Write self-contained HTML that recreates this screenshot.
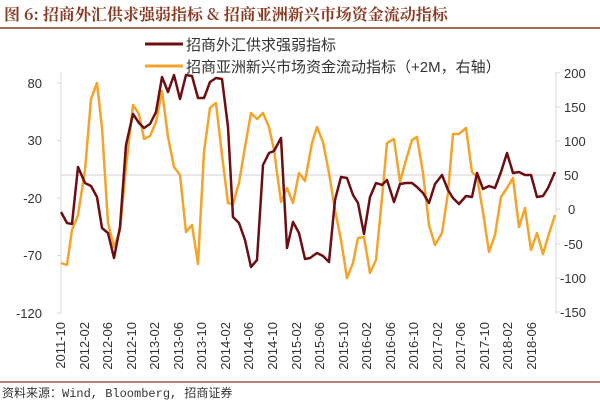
<!DOCTYPE html>
<html><head><meta charset="utf-8"><style>
body{margin:0;background:#fff;}
svg text{font-family:"Liberation Sans","Noto Sans CJK SC",sans-serif;}
</style></head><body>
<svg width="600" height="403" viewBox="0 0 600 403" xmlns="http://www.w3.org/2000/svg">
<rect width="600" height="403" fill="#fff"/>
<text x="4" y="20" font-size="16" font-weight="bold" fill="#8a3a22" style="font-family:'Noto Serif CJK SC','Liberation Serif',serif">图 6: 招商外汇供求强弱指标 &amp; 招商亚洲新兴市场资金流动指标</text>
<line x1="0" y1="28" x2="600" y2="28" stroke="#8a3a22" stroke-width="1.5"/>
<line x1="145" y1="44" x2="183" y2="44" stroke="#6b0f12" stroke-width="3"/>
<text x="186" y="50" font-size="15" fill="#333">招商外汇供求强弱指标</text>
<line x1="145" y1="66" x2="183" y2="66" stroke="#f2a52a" stroke-width="3"/>
<text x="186" y="72" font-size="15" fill="#333">招商亚洲新兴市场资金流动指标（+2M，右轴）</text>
<line x1="61" y1="72" x2="61" y2="314" stroke="#d9d9d9"/>
<line x1="556" y1="72" x2="556" y2="314" stroke="#d9d9d9"/>
<line x1="61" y1="175" x2="556" y2="175" stroke="#d9d9d9" stroke-width="1.2"/>
<g stroke="#d9d9d9">
<line x1="57" y1="83" x2="61" y2="83"/><line x1="57" y1="140.5" x2="61" y2="140.5"/><line x1="57" y1="198" x2="61" y2="198"/><line x1="57" y1="255.5" x2="61" y2="255.5"/><line x1="57" y1="313" x2="61" y2="313"/>
<line x1="556" y1="73" x2="560" y2="73"/><line x1="556" y1="107" x2="560" y2="107"/><line x1="556" y1="141" x2="560" y2="141"/><line x1="556" y1="209" x2="560" y2="209"/><line x1="556" y1="244" x2="560" y2="244"/><line x1="556" y1="278" x2="560" y2="278"/><line x1="556" y1="312" x2="560" y2="312"/>
</g>
<g font-size="13" fill="#333" text-anchor="end">
<text x="42" y="88">80</text><text x="42" y="145">30</text><text x="42" y="203">-20</text><text x="42" y="260">-70</text><text x="42" y="318">-120</text>
</g>
<g font-size="13" fill="#333" text-anchor="start">
<text x="564" y="78">200</text><text x="564" y="112">150</text><text x="564" y="146">100</text><text x="564" y="180">50</text><text x="568" y="214">0</text><text x="564" y="249">-50</text><text x="560" y="283">-100</text><text x="560" y="317">-150</text>
</g>
<g font-size="13" fill="#333" text-anchor="end" style="font-family:'Liberation Mono',monospace">
<text transform="translate(65,322) rotate(-90)">2011-10</text>
<text transform="translate(89,322) rotate(-90)">2012-02</text>
<text transform="translate(112,322) rotate(-90)">2012-06</text>
<text transform="translate(136,322) rotate(-90)">2012-10</text>
<text transform="translate(159,322) rotate(-90)">2013-02</text>
<text transform="translate(183,322) rotate(-90)">2013-06</text>
<text transform="translate(206,322) rotate(-90)">2013-10</text>
<text transform="translate(230,322) rotate(-90)">2014-02</text>
<text transform="translate(253,322) rotate(-90)">2014-06</text>
<text transform="translate(277,322) rotate(-90)">2014-10</text>
<text transform="translate(301,322) rotate(-90)">2015-02</text>
<text transform="translate(324,322) rotate(-90)">2015-06</text>
<text transform="translate(348,322) rotate(-90)">2015-10</text>
<text transform="translate(371,322) rotate(-90)">2016-02</text>
<text transform="translate(395,322) rotate(-90)">2016-06</text>
<text transform="translate(418,322) rotate(-90)">2016-10</text>
<text transform="translate(442,322) rotate(-90)">2017-02</text>
<text transform="translate(465,322) rotate(-90)">2017-06</text>
<text transform="translate(489,322) rotate(-90)">2017-10</text>
<text transform="translate(512,322) rotate(-90)">2018-02</text>
<text transform="translate(536,322) rotate(-90)">2018-06</text>
</g>
<polyline fill="none" stroke="#f2a52a" stroke-width="2.5" stroke-linejoin="round" points="61,263 67,265 72,230 78,215 85,170 91,99 97,83 102,128 108,223 114,247 120,230 126,167 133,105 139,114 144,139 150,136 156,122 162,91 168,137 174,167 180,175 186,232 192,225 198,264 204,152 210,108 216,103 222,155 228,203 233,204 239,183 245,147 251,113 257,119 263,113 269,127 274,150 281,202 287,188 293,203 299,173 305,181 312,143 317,127 323,142 329,173 335,210 341,240 347,278 353,263 358,238 364,237 370,273 376,260 382,198 387,143 394,139 400,182 406,160 412,140 417,137 423,173 429,225 435,245 442,233 448,193 453,134 459,134 466,128 472,172 477,177 483,212 489,252 495,235 501,197 507,188 513,178 519,227 525,208 531,250 537,233 543,254 548,237 555,215"/>
<polyline fill="none" stroke="#6b0f12" stroke-width="2.5" stroke-linejoin="round" points="61,212 67,223 72,224 78,167 85,183 91,186 97,197 102,228 108,233 114,258 120,227 126,145 133,114 139,123 144,128 150,124 156,112 162,77 168,92 174,75 180,99 186,75 192,76 198,98 204,98 210,82 216,78 222,79 228,127 233,217 239,223 245,240 251,267 257,260 263,165 269,153 274,151 281,138 287,248 293,222 299,233 305,259 310,258 317,253 323,256 329,262 335,200 341,177 347,178 353,195 358,203 364,234 370,197 376,183 382,185 387,180 394,202 400,184 406,183 412,183 417,187 423,193 429,203 435,184 442,175 448,190 453,198 459,204 466,196 472,197 477,173 483,189 489,186 495,188 501,172 507,153 513,173 519,172 525,175 531,175 537,197 543,196 548,188 555,172"/>
<line x1="0" y1="382" x2="600" y2="382" stroke="#8a3a22" stroke-width="1.2"/>
<text x="2" y="397" font-size="12" fill="#333" style="font-family:'Liberation Mono','Noto Sans CJK SC',monospace">资料来源：Wind, Bloomberg, 招商证券</text>
</svg>
</body></html>
